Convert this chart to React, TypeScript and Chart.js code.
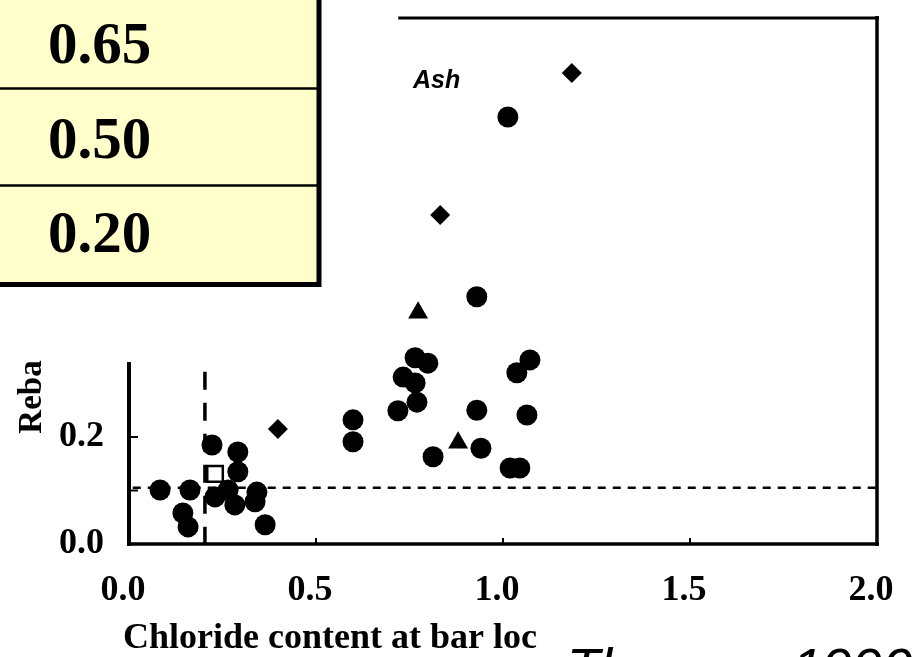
import React, { useEffect, useRef } from 'react';
import { Chart, registerables } from 'chart.js';

Chart.register(...registerables);

// Chloride content at bar location (x) vs. Reba (y)
const circleX = [1.013, 0.930, 0.765, 0.799, 0.733, 0.765, 0.770, 0.719, 0.930, 1.064, 1.037, 1.072, 0.941, 0.813, 1.019, 1.045, 0.599, 0.599,
  0.083, 0.163, 0.144, 0.158, 0.222, 0.291, 0.291, 0.230, 0.283, 0.265, 0.337, 0.342, 0.364];
const circleY = [0.798, 0.462, 0.348, 0.338, 0.312, 0.301, 0.265, 0.249, 0.250, 0.241, 0.320, 0.344, 0.179, 0.163, 0.142, 0.142, 0.232, 0.191,
  0.101, 0.101, 0.058, 0.032, 0.185, 0.172, 0.135, 0.088, 0.073, 0.101, 0.079, 0.097, 0.036];

const triangleX = [0.773, 0.880];
const triangleY = [0.432, 0.189];

const diamondX = [1.184, 0.832, 0.398];
const diamondY = [0.880, 0.615, 0.215];

const squareX = [0.230];
const squareY = [0.131];

// threshold lines
const thresholdReba = 0.105;
const thresholdChloride = 0.203;
const thresholdChlorideTop = 0.322;

const xTicks = [0, 0.5, 1.0, 1.5, 2.0];
const yTicks = [0, 0.2];
const yMax = 0.983;

const tableValues = ['0.65', '0.50', '0.20'];

const xTitle = 'Chloride content at bar loc';
const yTitle = 'Reba';
const panelLabel = 'Ash';
const sourceNote = 'Thomas, 1990';

const pts = (xs: number[], ys: number[]) => xs.map((x, i) => ({ x, y: ys[i] }));

const serif = '"Liberation Serif", "Times New Roman", serif';
const sans = '"Liberation Sans", Arial, sans-serif';

const noScalePadding = (s: any) => {
  s.paddingTop = 0;
  s.paddingBottom = 0;
  s.paddingLeft = 0;
  s.paddingRight = 0;
};

const framePlugin = {
  id: 'frame',
  afterDatasetsDraw(chart: any) {
    const { ctx, chartArea: a, scales } = chart;
    const xs = scales.x;
    const ys = scales.y;
    const seg = (x1: number, y1: number, x2: number, y2: number) => {
      ctx.beginPath();
      ctx.moveTo(x1, y1);
      ctx.lineTo(x2, y2);
      ctx.stroke();
    };
    ctx.save();
    ctx.strokeStyle = '#000';
    ctx.lineCap = 'butt';
    ctx.lineWidth = 3.5;
    // bottom axis and right border
    seg(a.left - 2, a.bottom, a.right + 2, a.bottom);
    seg(a.right, a.top - 2, a.right, a.bottom + 2);
    // top border
    ctx.lineWidth = 3;
    seg(xs.getPixelForValue(0.72), a.top, a.right + 2, a.top);
    // left axis
    ctx.lineWidth = 4;
    seg(a.left, ys.getPixelForValue(0.34), a.left, a.bottom + 2);
    // inward tick marks
    ctx.lineWidth = 2;
    [0.1, 0.2].forEach((v) => {
      const py = ys.getPixelForValue(v);
      seg(a.left, py, a.left + 9, py);
    });
    [0.5, 1.0, 1.5].forEach((v) => {
      const px = xs.getPixelForValue(v);
      seg(px, a.bottom, px, a.bottom - 6);
    });
    ctx.restore();
  },
  afterDraw(chart: any) {
    const { ctx } = chart;
    ctx.save();

    // axis titles
    ctx.fillStyle = '#000';
    ctx.font = `bold 36px ${serif}`;
    ctx.textAlign = 'left';
    ctx.textBaseline = 'alphabetic';
    ctx.fillText(xTitle, 123, 648);

    ctx.save();
    ctx.translate(41, 397);
    ctx.rotate(-Math.PI / 2);
    ctx.font = `bold 33px ${serif}`;
    ctx.textAlign = 'center';
    ctx.fillText(yTitle, 0, 0);
    ctx.restore();

    // panel label
    ctx.font = `italic bold 25px ${sans}`;
    ctx.textAlign = 'left';
    ctx.fillText(panelLabel, 413, 88);

    // source note
    ctx.font = `italic 54px ${sans}`;
    ctx.fillText(sourceNote, 567, 686);

    // value table
    ctx.fillStyle = '#FFFFCC';
    ctx.fillRect(-10, -10, 329, 294);
    ctx.strokeStyle = '#000';
    ctx.lineWidth = 2.5;
    [88.5, 185.5].forEach((yy) => {
      ctx.beginPath();
      ctx.moveTo(-10, yy);
      ctx.lineTo(318, yy);
      ctx.stroke();
    });
    ctx.lineWidth = 5;
    ctx.beginPath();
    ctx.moveTo(319, -10);
    ctx.lineTo(319, 284.5);
    ctx.lineTo(-10, 284.5);
    ctx.stroke();
    ctx.fillStyle = '#000';
    ctx.font = `bold 59px ${serif}`;
    const baselines = [63, 158, 252];
    tableValues.forEach((t, i) => ctx.fillText(t, 48, baselines[i]));

    ctx.restore();
  },
};

export default function App() {
  const canvasRef = useRef<HTMLCanvasElement | null>(null);

  useEffect(() => {
    document.body.style.margin = '0';
    const canvas = canvasRef.current;
    if (!canvas) return;

    const chart = new Chart(canvas, {
      type: 'scatter',
      data: {
        datasets: [
          {
            label: 'open',
            data: pts(squareX, squareY),
            pointStyle: 'rect',
            pointRadius: 11,
            backgroundColor: '#fff',
            borderColor: '#000',
            borderWidth: 2.5,
            order: 0,
          },
          {
            label: 'circles',
            data: pts(circleX, circleY),
            pointStyle: 'circle',
            pointRadius: 10.5,
            backgroundColor: '#000',
            borderWidth: 0,
            order: 1,
          },
          {
            label: 'triangles',
            data: pts(triangleX, triangleY),
            pointStyle: 'triangle',
            pointRadius: 11.5,
            backgroundColor: '#000',
            borderWidth: 0,
            order: 1,
          },
          {
            label: 'diamonds',
            data: pts(diamondX, diamondY),
            pointStyle: 'rectRot',
            pointRadius: 10,
            backgroundColor: '#000',
            borderWidth: 0,
            order: 1,
          },
          {
            label: 'reba threshold',
            data: [
              { x: 0.01, y: thresholdReba },
              { x: 2.0, y: thresholdReba },
            ],
            showLine: true,
            pointRadius: 0,
            borderColor: '#000',
            borderWidth: 2.5,
            borderDash: [8, 7],
            order: 5,
          },
          {
            label: 'chloride threshold',
            data: [
              { x: thresholdChloride, y: thresholdChlorideTop },
              { x: thresholdChloride, y: 0 },
            ],
            showLine: true,
            pointRadius: 0,
            borderColor: '#000',
            borderWidth: 3.5,
            borderDash: [18, 13],
            order: 5,
          },
        ],
      },
      options: {
        responsive: false,
        animation: false,
        events: [],
        layout: { padding: { left: 0, top: 18, right: 41, bottom: 0 } },
        plugins: {
          legend: { display: false },
          tooltip: { enabled: false },
        },
        scales: {
          x: {
            type: 'linear',
            min: 0,
            max: 2,
            afterBuildTicks: (s: any) => {
              s.ticks = xTicks.map((value) => ({ value }));
            },
            afterFit: (s: any) => {
              s.height = 113;
              noScalePadding(s);
            },
            grid: { display: false, drawTicks: false },
            border: { display: false },
            ticks: {
              autoSkip: false,
              maxRotation: 0,
              padding: 25,
              labelOffset: -6,
              color: '#000',
              font: { family: serif, size: 36, weight: 'bold' },
              callback: (v: any) => Number(v).toFixed(1),
            },
          },
          y: {
            type: 'linear',
            min: 0,
            max: yMax,
            afterBuildTicks: (s: any) => {
              s.ticks = yTicks.map((value) => ({ value }));
            },
            afterFit: (s: any) => {
              s.width = 129;
              noScalePadding(s);
            },
            grid: { display: false, drawTicks: false },
            border: { display: false },
            ticks: {
              padding: 25,
              color: '#000',
              font: { family: serif, size: 36, weight: 'bold' },
              callback: (v: any) => Number(v).toFixed(1),
            },
          },
        },
      },
      plugins: [framePlugin],
    } as any);

    return () => chart.destroy();
  }, []);

  return (
    <div style={{ position: 'fixed', left: 0, top: 0, width: 918, height: 657, background: '#fff' }}>
      <canvas ref={canvasRef} width={918} height={657} style={{ display: 'block' }} />
    </div>
  );
}
